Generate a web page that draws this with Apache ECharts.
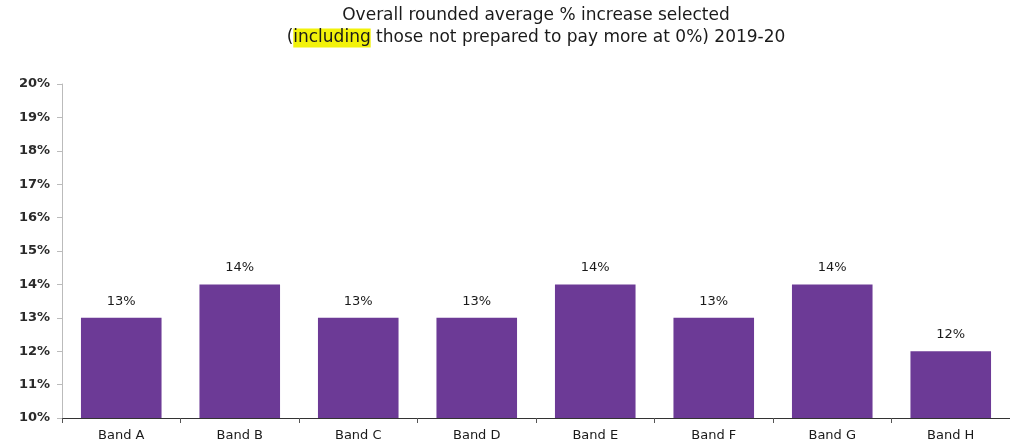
<!DOCTYPE html>
<html>
<head>
<meta charset="utf-8">
<script src="https://cdn.jsdelivr.net/npm/echarts@6/dist/echarts.min.js"></script>
<style>
html,body{margin:0;padding:0;background:#fff;}
#chart{width:1010px;height:445px;}
</style>
</head>
<body>
<div id="chart"></div>
<script>
var categories = ['Band A', 'Band B', 'Band C', 'Band D', 'Band E', 'Band F', 'Band G', 'Band H'];
var values = [13, 14, 13, 13, 14, 13, 14, 12];
var yMin = 10, yMax = 20, yStep = 1;
var titleLine1 = 'Overall rounded average % increase selected';
var titleLine2a = '(';
var titleHighlight = 'including';
var titleLine2b = ' those not prepared to pay more at 0%) 2019-20';

var chart = echarts.init(document.getElementById('chart'));
var font = 'DejaVu Sans, Verdana, sans-serif';
chart.setOption({
  animation: false,
  backgroundColor: '#ffffff',
  title: {
    text: '{t|' + titleLine1 + '}\n{t|' + titleLine2a + '}{h|' + titleHighlight + '}{t|' + titleLine2b + '}',
    left: 531,
    top: 0,
    textAlign: 'center',
    textStyle: {
      fontWeight: 'normal',
      rich: {
        t: { fontFamily: font, fontSize: 17, fontWeight: 'normal', color: '#1a1a1a', lineHeight: 22 },
        h: { fontFamily: font, fontSize: 17, fontWeight: 'normal', color: '#1a1a1a', lineHeight: 22, backgroundColor: '#f2f20a', padding: [1, 0, 1, 0] }
      }
    }
  },
  grid: { left: 62, right: -8, top: 84, bottom: 27, containLabel: false },
  xAxis: {
    type: 'category',
    data: categories,
    axisLine: { show: true, lineStyle: { color: '#333', width: 1 } },
    axisTick: { show: true, alignWithLabel: false, length: 5, lineStyle: { color: '#555' } },
    axisLabel: { fontFamily: font, fontSize: 13, color: '#1a1a1a', margin: 11 }
  },
  yAxis: {
    type: 'value',
    min: yMin, max: yMax, interval: yStep,
    axisLine: { show: true, lineStyle: { color: '#bbbbbb', width: 1 } },
    axisTick: { show: true, length: 5, lineStyle: { color: '#bbbbbb' } },
    splitLine: { show: false },
    axisLabel: { formatter: '{value}%', fontFamily: font, fontSize: 13, fontWeight: 'bold', color: '#2a2a2a', margin: 12 }
  },
  series: [{
    type: 'bar',
    data: values,
    barCategoryGap: '32%',
    itemStyle: { color: '#6c3a96' },
    label: {
      show: true, position: 'top', distance: 10,
      formatter: '{c}%', fontFamily: font, fontSize: 13, color: '#1a1a1a'
    }
  }]
});
</script>
</body>
</html>
